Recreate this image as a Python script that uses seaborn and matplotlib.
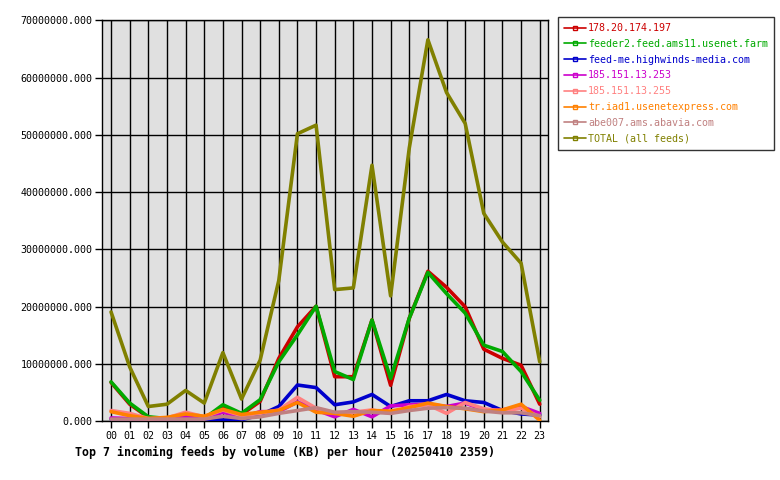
import matplotlib
matplotlib.use("Agg")
import matplotlib.pyplot as plt
import seaborn as sns
import pandas as pd
from matplotlib.ticker import FuncFormatter, MultipleLocator
from matplotlib.lines import Line2D

hours = ["00", "01", "02", "03", "04", "05", "06", "07", "08", "09", "10", "11",
         "12", "13", "14", "15", "16", "17", "18", "19", "20", "21", "22", "23"]

feeds = ["178.20.174.197", "feeder2.feed.ams11.usenet.farm", "feed-me.highwinds-media.com",
         "185.151.13.253", "185.151.13.255", "tr.iad1.usenetexpress.com",
         "abe007.ams.abavia.com", "TOTAL (all feeds)"]

colors = ["#cc0000", "#00aa00", "#0000cc", "#cc00cc", "#ff8080", "#ff8000", "#c08080", "#808000"]

# values in millions of KB
v_red = [6.8, 3.0, 0.7, 0.4, 0.5, 0.4, 2.6, 1.2, 3.5, 11.0, 16.5, 20.1,
         7.8, 7.8, 17.7, 6.3, 18.0, 26.2, 23.4, 20.0, 12.6, 11.0, 9.8, 3.0]
v_green = [6.9, 3.2, 0.8, 0.5, 0.6, 0.5, 2.9, 1.4, 3.8, 10.4, 15.1, 20.1,
           8.7, 7.3, 17.7, 7.5, 18.0, 26.0, 22.3, 18.9, 13.3, 12.2, 8.7, 3.7]
v_blue = [0.4, 0.3, 0.3, 0.3, 0.3, 0.3, 0.25, 0.3, 1.1, 2.6, 6.35, 5.9,
          2.9, 3.4, 4.7, 2.6, 3.6, 3.6, 4.7, 3.6, 3.3, 1.9, 1.3, 1.1]
v_magenta = [0.6, 0.5, 0.4, 0.5, 0.8, 0.5, 1.6, 0.7, 1.7, 1.7, 3.4, 2.0,
             0.8, 2.1, 0.8, 2.7, 2.9, 3.0, 2.6, 3.2, 2.0, 2.0, 2.6, 1.4]
v_salmon = [1.9, 1.4, 0.5, 0.6, 1.6, 0.8, 2.0, 1.0, 1.4, 2.0, 4.2, 2.3,
            1.4, 1.6, 2.0, 1.4, 2.6, 2.9, 1.4, 3.3, 2.2, 1.8, 2.3, 0.8]
v_orange = [1.7, 1.0, 0.5, 0.7, 1.3, 0.9, 2.1, 1.2, 1.6, 1.9, 3.3, 1.6,
            1.4, 0.9, 1.9, 1.8, 2.4, 3.2, 2.6, 2.2, 1.7, 2.0, 3.0, 0.2]
v_rosy = [0.4, 0.4, 0.4, 0.4, 0.4, 0.4, 0.9, 0.5, 0.8, 1.4, 1.9, 2.4,
          1.6, 1.7, 1.6, 1.4, 1.9, 2.3, 2.4, 2.3, 1.8, 1.5, 1.5, 1.0]
v_total = [19.1, 9.5, 2.6, 3.0, 5.4, 3.2, 12.0, 3.9, 10.7, 24.6, 50.2, 51.7,
           23.0, 23.3, 44.7, 21.9, 47.7, 66.6, 57.4, 52.0, 36.3, 31.3, 27.6, 10.4]

series = [v_red, v_green, v_blue, v_magenta, v_salmon, v_orange, v_rosy, v_total]

rows = []
for name, vals in zip(feeds, series):
    for i, v in enumerate(vals):
        rows.append({"hour": i, "feed": name, "kb": v * 1e6})
df = pd.DataFrame(rows)

sns.set_theme(style="white")
plt.rcParams["font.family"] = ["DejaVu Sans Mono"]

fig = plt.figure(figsize=(7.8, 4.8), dpi=100)
ax = fig.add_axes([102.3 / 780, 1 - 421.4 / 480, (548.3 - 102.3) / 780, (421.4 - 20.3) / 480])
ax.set_facecolor("#e0e0e0")

sns.lineplot(data=df, x="hour", y="kb", hue="feed", hue_order=feeds,
             palette=dict(zip(feeds, colors)), linewidth=2.6, legend=False, ax=ax,
             zorder=3)

ax.set_xlim(-0.47, 23.46)
ax.set_ylim(0, 70e6)
ax.set_xticks(range(24))
ax.set_xticklabels(hours)
ax.yaxis.set_major_locator(MultipleLocator(10e6))
ax.yaxis.set_major_formatter(FuncFormatter(lambda v, p: f"{v:.3f}"))
ax.grid(True, color="black", linewidth=1.0, zorder=1)
ax.set_axisbelow(True)
for s in ax.spines.values():
    s.set_color("black")
    s.set_linewidth(1.0)
ax.tick_params(axis="both", direction="out", length=5, width=1, color="black",
               labelsize=7.2, labelcolor="black", pad=2,
               bottom=True, left=True)
ax.set_xlabel("")
ax.set_ylabel("")

fig.text(75 / 780, 1 - 452 / 480, "Top 7 incoming feeds by volume (KB) per hour (20250410 2359)",
         fontsize=8.4, fontweight="bold", ha="left", va="center", color="black")

handles = [Line2D([0], [0], color=c, linewidth=1.2, marker="s", markersize=3,
                  markerfacecolor="none", markeredgewidth=1.0) for c in colors]
leg = fig.legend(handles, feeds, loc="upper left", bbox_to_anchor=(558 / 780, 1 - 17 / 480),
                 frameon=True, fancybox=False, fontsize=7.2, handlelength=2.2,
                 handletextpad=0.2, borderpad=0.6, labelspacing=0.58, borderaxespad=0)
leg.get_frame().set_edgecolor("black")
leg.get_frame().set_linewidth(1.0)
for t, c in zip(leg.get_texts(), colors):
    t.set_color(c)

fig.savefig("out.png", dpi=100, facecolor="white")
